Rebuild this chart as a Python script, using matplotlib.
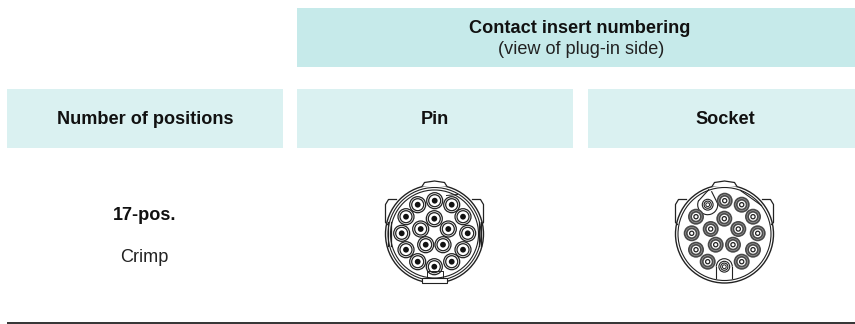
import numpy as np
import matplotlib
matplotlib.use("Agg")
import matplotlib.pyplot as plt
from matplotlib.patches import Rectangle, Circle, Arc, Polygon

plt.rcParams["font.family"] = ["Liberation Sans", "DejaVu Sans"]

W, H = 855, 324

HEADER_TOP = "Contact insert numbering"
HEADER_SUB = "(view of plug-in side)"
COLUMNS = ["Number of positions", "Pin", "Socket"]
ROW_TITLE = "17-pos."
ROW_SUB = "Crimp"

# contact centres (px, image coordinates)
PIN_X = [434.7, 417.7, 451.7, 406, 463, 434.3, 420.7, 448.3, 401.7, 467.7, 425.7, 443, 406, 463, 417.7, 451.7, 434.3]
PIN_Y = [200.7, 204.7, 204.7, 216.7, 216.7, 218.7, 229, 229, 233.3, 233.3, 244.7, 244.7, 249.7, 249.7, 261.7, 261.7, 266.7]
SOCK_X = [724.7, 707.7, 741.7, 696, 753, 724.3, 710.7, 738.3, 691.7, 757.7, 715.7, 733, 696, 753, 707.7, 741.7, 724.3]
SOCK_Y = PIN_Y

DARK = "#c6eaea"
LIGHT = "#daf1f1"
INK = "#222222"


def ring(ax, x, y, r, lw=0.8, fc="none", ec=INK, z=3):
    ax.add_patch(Circle((x, y), r, fc=fc, ec=ec, lw=lw, zorder=z))


def shell(ax, cx, cy):
    ring(ax, cx, cy + 0.5, 49, lw=1.0)
    ring(ax, cx, cy + 0.5, 46.5, lw=0.8)
    # top key
    ax.add_patch(Polygon([[cx - 12.5, cy - 47], [cx - 10, cy - 51], [cx, cy - 52.5], [cx + 10, cy - 51], [cx + 12.5, cy - 47]],
                         closed=False, fc="white", ec=INK, lw=0.9, zorder=4))
    # side ears
    for s in (-1, 1):
        ax.plot([cx + s * 38, cx + s * 46, cx + s * 49, cx + s * 49, cx + s * 47],
                [cy - 34, cy - 34, cy - 29, cy - 11, cy - 9], color=INK, lw=0.9, zorder=4)


def draw_pin(ax, cx, cy):
    shell(ax, cx, cy)
    ring(ax, cx, cy + 0.5, 44, lw=0.8)
    for s in (-1, 1):
        ax.plot([cx + s * 46.5, cx + s * 46.5], [cy - 12, cy + 12], color=INK, lw=0.9, zorder=4)
        ax.plot([cx + s * 44, cx + s * 44], [cy - 12, cy + 12], color=INK, lw=0.9, zorder=4)
    ax.add_patch(Rectangle((cx - 12.5, cy + 44), 25, 5, fc="white", ec=INK, lw=0.8, zorder=4))
    ax.plot([cx - 8, cx - 8, cx + 8, cx + 8], [cy + 44, cy + 37, cy + 37, cy + 44], color=INK, lw=0.7, zorder=2)
    ax.plot([cx + 12, cx + 23], [cy - 38, cy - 39], color=INK, lw=0.7, zorder=2)
    for x, y in zip(PIN_X, PIN_Y):
        ring(ax, x, y, 8.0, lw=0.9)
        ring(ax, x, y, 6.0, lw=0.9)
        ring(ax, x, y, 2.9, lw=0, fc="#111111")


def draw_socket(ax, cx, cy):
    shell(ax, cx, cy)
    # keyed pockets round the two light contacts
    x0, y0 = SOCK_X[1], SOCK_Y[1]
    ax.add_patch(Arc((x0, y0), 20, 20, theta1=-10, theta2=205, ec=INK, lw=0.8, zorder=3))
    ax.plot([x0 - 9, x0 + 1], [y0 - 4, y0 - 15], color=INK, lw=0.8, zorder=3)
    ax.plot([x0 + 10, x0 + 4], [y0 - 1, y0 - 13], color=INK, lw=0.8, zorder=3)
    xb, yb = SOCK_X[16], SOCK_Y[16]
    ax.add_patch(Arc((xb, yb), 16, 16, theta1=180, theta2=360, ec=INK, lw=0.8, zorder=3))
    ax.plot([xb - 8, xb - 8], [yb, yb + 11], color=INK, lw=0.8, zorder=3)
    ax.plot([xb + 8, xb + 8], [yb, yb + 11], color=INK, lw=0.8, zorder=3)
    ax.plot([cx + 16, cx + 37], [cy - 43, cy - 28], color=INK, lw=0.8, zorder=3)
    for i, (x, y) in enumerate(zip(SOCK_X, SOCK_Y)):
        if i in (1, 16):
            ring(ax, x, y, 5.4, lw=0.8)
            ring(ax, x, y, 3.6, lw=0.8)
            ring(ax, x, y, 1.9, lw=0.7)
        else:
            ring(ax, x, y, 8.0, lw=0, fc="#4a4a4a")
            ring(ax, x, y, 6.0, lw=0.4, ec="#aaaaaa")
            ring(ax, x, y, 4.0, lw=0, fc="white")
            ring(ax, x, y, 2.1, lw=0.9)


fig = plt.figure(figsize=(W / 100, H / 100), dpi=100)
ax = fig.add_axes([0, 0, 1, 1])
ax.set_xlim(0, W)
ax.set_ylim(H, 0)
ax.axis("off")

ax.add_patch(Rectangle((297, 8), 558, 59, fc=DARK, ec="none"))
ax.add_patch(Rectangle((7, 89), 276, 59, fc=LIGHT, ec="none"))
ax.add_patch(Rectangle((297, 89), 276, 59, fc=LIGHT, ec="none"))
ax.add_patch(Rectangle((588, 89), 267, 59, fc=LIGHT, ec="none"))

fs = 13.1
ax.text(580, 33, HEADER_TOP, ha="center", va="baseline", fontsize=fs, fontweight="bold", color="#111111")
ax.text(581, 53.5, HEADER_SUB, ha="center", va="baseline", fontsize=fs, color="#222222")
ax.text(145, 124, COLUMNS[0], ha="center", va="baseline", fontsize=fs, fontweight="bold", color="#111111")
ax.text(435, 124, COLUMNS[1], ha="center", va="baseline", fontsize=fs, fontweight="bold", color="#111111")
ax.text(725.5, 124, COLUMNS[2], ha="center", va="baseline", fontsize=fs, fontweight="bold", color="#111111")
ax.text(144.5, 220, ROW_TITLE, ha="center", va="baseline", fontsize=fs, fontweight="bold", color="#111111")
ax.text(144.5, 261.5, ROW_SUB, ha="center", va="baseline", fontsize=fs, color="#222222")

draw_pin(ax, 434.5, 233.5)
draw_socket(ax, 724.5, 233.5)

ax.plot([7, 855], [323, 323], color="#111111", lw=1.2, solid_capstyle="butt")

fig.savefig("out.png", dpi=100)
